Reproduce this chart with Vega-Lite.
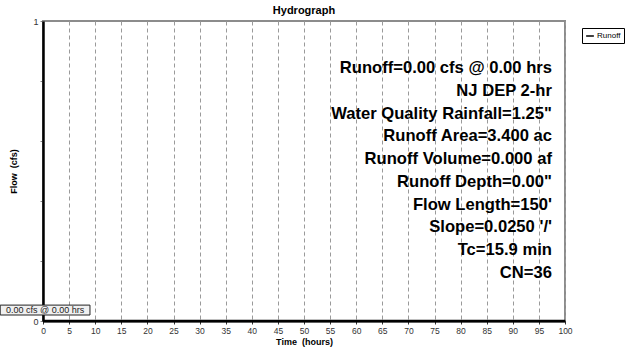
{
  "$schema": "https://vega.github.io/schema/vega-lite/v6.json",
  "autosize": {"type": "none"},
  "padding": {"left": 43, "top": 21, "right": 63, "bottom": 27},
  "width": 522,
  "height": 300,
  "background": "white",
  "config": {
    "font": "Liberation Sans",
    "view": {"stroke": "#8c8c8c", "strokeWidth": 2},
    "axis": {"labelFont": "Liberation Sans", "titleFont": "Liberation Sans"}
  },
  "title": {"text": "Hydrograph", "fontSize": 11, "fontWeight": "bold", "font": "Liberation Sans", "offset": 1, "color": "#000"},
  "datasets": {
    "runoff": [
      {"t": 0, "flow": 0}, {"t": 10, "flow": 0}, {"t": 20, "flow": 0}, {"t": 30, "flow": 0},
      {"t": 40, "flow": 0}, {"t": 50, "flow": 0}, {"t": 60, "flow": 0}, {"t": 70, "flow": 0},
      {"t": 80, "flow": 0}, {"t": 90, "flow": 0}, {"t": 100, "flow": 0}
    ],
    "notes": [
      {"line": 0, "label": "Runoff=0.00 cfs @ 0.00 hrs"},
      {"line": 1, "label": "NJ DEP 2-hr"},
      {"line": 2, "label": "Water Quality Rainfall=1.25\""},
      {"line": 3, "label": "Runoff Area=3.400 ac"},
      {"line": 4, "label": "Runoff Volume=0.000 af"},
      {"line": 5, "label": "Runoff Depth=0.00\""},
      {"line": 6, "label": "Flow Length=150'"},
      {"line": 7, "label": "Slope=0.0250 '/'"},
      {"line": 8, "label": "Tc=15.9 min"},
      {"line": 9, "label": "CN=36"}
    ],
    "peak": [{"label": "0.00 cfs @ 0.00 hrs"}]
  },
  "layer": [
    {
      "layer": [
        {
          "data": {"name": "runoff"},
          "mark": {"type": "line", "strokeWidth": 2.5, "clip": false},
          "encoding": {
            "x": {
              "field": "t", "type": "quantitative",
              "scale": {"domain": [0, 100], "nice": false, "zero": false},
              "axis": {
                "title": "Time \u00a0(hours)", "titleFontSize": 9, "titleFontWeight": "bold", "titleColor": "#000", "titlePadding": 3,
                "values": [0,5,10,15,20,25,30,35,40,45,50,55,60,65,70,75,80,85,90,95,100],
                "labelFontSize": 8.5, "labelColor": "#333", "labelPadding": 2, "labelFlush": false, "labelOverlap": false,
                "tickSize": 3, "tickColor": "#333",
                "domainColor": "#000", "domainWidth": 2,
                "grid": true, "gridColor": "#9a9a9a", "gridDash": [4, 3], "gridWidth": 1
              }
            },
            "y": {
              "field": "flow", "type": "quantitative",
              "scale": {"domain": [0, 1], "nice": false},
              "axis": {
                "title": "Flow \u00a0(cfs)", "titleFontSize": 9, "titleFontWeight": "bold", "titleColor": "#000", "titlePadding": 14,
                "values": [0, 0.2, 0.4, 0.6, 0.8, 1],
                "labelExpr": "datum.value == 0 || datum.value == 1 ? format(datum.value, 'd') : ''",
                "labelFontSize": 9, "labelColor": "#333", "labelPadding": 2,
                "tickSize": 3, "tickColor": "#888",
                "domainColor": "#000", "domainWidth": 2.5,
                "grid": false
              }
            },
            "color": {
              "datum": "Runoff",
              "scale": {"range": ["#000000"]},
              "legend": {
                "title": null, "orient": "none", "legendX": 539, "legendY": 7,
                "symbolType": "stroke", "symbolSize": 60, "symbolStrokeWidth": 1.5,
                "labelFontSize": 8, "labelFont": "Liberation Sans", "labelColor": "#000", "labelOffset": 2,
                "strokeColor": "#000", "fillColor": "#fff", "padding": 3
              }
            }
          }
        },
        {
          "data": {"name": "peak"},
          "mark": {"type": "rect", "fill": "#f0f0f0", "stroke": "#222", "strokeWidth": 1, "clip": false},
          "encoding": {
            "x": {"datum": -8.2, "type": "quantitative",
              "axis": {
                "title": "Time \u00a0(hours)", "titleFontSize": 9, "titleFontWeight": "bold", "titleColor": "#000", "titlePadding": 3,
                "values": [0,5,10,15,20,25,30,35,40,45,50,55,60,65,70,75,80,85,90,95,100],
                "labelFontSize": 8.5, "labelColor": "#333", "labelPadding": 2, "labelFlush": false, "labelOverlap": false,
                "tickSize": 3, "tickColor": "#333",
                "domainColor": "#000", "domainWidth": 2,
                "grid": true, "gridColor": "#9a9a9a", "gridDash": [4, 3], "gridWidth": 1
              }},
            "x2": {"datum": 9.0},
            "y": {"datum": 0.02, "type": "quantitative",
              "axis": {
                "title": "Flow \u00a0(cfs)", "titleFontSize": 9, "titleFontWeight": "bold", "titleColor": "#000", "titlePadding": 14,
                "values": [0, 0.2, 0.4, 0.6, 0.8, 1],
                "labelExpr": "datum.value == 0 || datum.value == 1 ? format(datum.value, 'd') : ''",
                "labelFontSize": 9, "labelColor": "#333", "labelPadding": 2,
                "tickSize": 3, "tickColor": "#888",
                "domainColor": "#000", "domainWidth": 2.5,
                "grid": false
              }},
            "y2": {"datum": 0.053}
          }
        },
        {
          "data": {"name": "peak"},
          "mark": {"type": "text", "fontSize": 9, "font": "Liberation Sans", "color": "#222", "align": "center", "baseline": "middle", "clip": false},
          "encoding": {
            "x": {"datum": 0.4, "type": "quantitative",
              "axis": {
                "title": "Time \u00a0(hours)", "titleFontSize": 9, "titleFontWeight": "bold", "titleColor": "#000", "titlePadding": 3,
                "values": [0,5,10,15,20,25,30,35,40,45,50,55,60,65,70,75,80,85,90,95,100],
                "labelFontSize": 8.5, "labelColor": "#333", "labelPadding": 2, "labelFlush": false, "labelOverlap": false,
                "tickSize": 3, "tickColor": "#333",
                "domainColor": "#000", "domainWidth": 2,
                "grid": true, "gridColor": "#9a9a9a", "gridDash": [4, 3], "gridWidth": 1
              }},
            "y": {"datum": 0.037, "type": "quantitative",
              "axis": {
                "title": "Flow \u00a0(cfs)", "titleFontSize": 9, "titleFontWeight": "bold", "titleColor": "#000", "titlePadding": 14,
                "values": [0, 0.2, 0.4, 0.6, 0.8, 1],
                "labelExpr": "datum.value == 0 || datum.value == 1 ? format(datum.value, 'd') : ''",
                "labelFontSize": 9, "labelColor": "#333", "labelPadding": 2,
                "tickSize": 3, "tickColor": "#888",
                "domainColor": "#000", "domainWidth": 2.5,
                "grid": false
              }},
            "text": {"field": "label"}
          }
        }
      ]
    },
    {
      "data": {"name": "notes"},
      "mark": {"type": "text", "fontSize": 16.6, "fontWeight": "bold", "font": "Liberation Sans", "color": "#000", "align": "right", "baseline": "middle"},
      "encoding": {
        "x": {"datum": 97.5, "type": "quantitative",
          "axis": {
            "title": "Time \u00a0(hours)", "titleFontSize": 9, "titleFontWeight": "bold", "titleColor": "#000", "titlePadding": 3,
            "values": [0,5,10,15,20,25,30,35,40,45,50,55,60,65,70,75,80,85,90,95,100],
            "labelFontSize": 8.5, "labelColor": "#333", "labelPadding": 2, "labelFlush": false, "labelOverlap": false,
            "tickSize": 3, "tickColor": "#333",
            "domainColor": "#000", "domainWidth": 2,
            "grid": true, "gridColor": "#9a9a9a", "gridDash": [4, 3], "gridWidth": 1
          }},
        "y": {
          "field": "line", "type": "ordinal",
          "scale": {"type": "point", "range": [47.3, 251.7], "padding": 0},
          "axis": null
        },
        "text": {"field": "label"}
      }
    }
  ],
  "resolve": {"scale": {"y": "independent"}}
}
